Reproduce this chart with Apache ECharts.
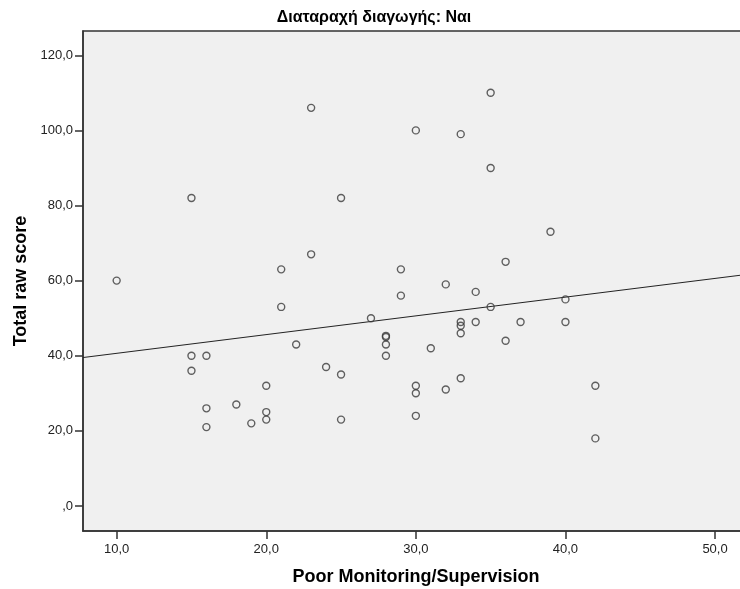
<!DOCTYPE html>
<html>
<head>
<meta charset="utf-8">
<script src="https://cdn.jsdelivr.net/npm/echarts@6/dist/echarts.min.js"></script>
<style>
  html, body { margin: 0; padding: 0; background: #ffffff; }
  #chart { width: 740px; height: 589px; }
</style>
</head>
<body>
<div id="chart"></div>
<script>
// Poor Monitoring/Supervision vs. total raw score, conduct disorder = yes
const chartTitle = 'Διαταραχή διαγωγής: Ναι';
const xTitle = 'Poor Monitoring/Supervision';
const yTitle = 'Total raw score';

const monitoring = [
  10, 15, 15, 15, 16, 16, 16, 18, 19, 20, 20, 20, 21, 21, 22, 23, 23, 24,
  25, 25, 25, 27, 28, 28, 28, 28, 29, 29, 30, 30, 30, 30, 31, 32, 32, 33,
  33, 33, 33, 33, 34, 34, 35, 35, 35, 36, 36, 37, 39, 40, 40, 42, 42
];
const rawScore = [
  60, 82, 40, 36, 40, 26, 21, 27, 22, 32, 25, 23, 63, 53, 43, 106, 67, 37,
  82, 35, 23, 50, 45, 45.3, 43, 40, 63, 56, 100, 32, 30, 24, 42, 59, 31, 99,
  49, 48, 46, 34, 57, 49, 110, 90, 53, 65, 44, 49, 73, 55, 49, 32, 18
];

const xTicks = [10, 20, 30, 40, 50];
const yTicks = [0, 20, 40, 60, 80, 100, 120];
const xRange = [7.75, 52.27];
const yRange = [-6.66, 126.46];

// SPSS-style numbers: comma decimal, no leading zero
function fmt(v) {
  let s = v.toFixed(1).replace('.', ',');
  if (s.indexOf('0,') === 0) s = s.slice(1);
  return s;
}

// ordinary least squares fit line
const n = monitoring.length;
const mx = monitoring.reduce((a, b) => a + b, 0) / n;
const my = rawScore.reduce((a, b) => a + b, 0) / n;
let sxy = 0, sxx = 0;
for (let i = 0; i < n; i++) {
  sxy += (monitoring[i] - mx) * (rawScore[i] - my);
  sxx += (monitoring[i] - mx) * (monitoring[i] - mx);
}
const slope = sxy / sxx;
const intercept = my - slope * mx;
const fitLine = xRange.map(x => [x, intercept + slope * x]);

const points = monitoring.map((x, i) => [x, rawScore[i]]);

const font = '"Liberation Sans", Arial, sans-serif';
const ink = '#333333';

const chart = echarts.init(document.getElementById('chart'), null, { renderer: 'canvas' });
chart.setOption({
  animation: false,
  backgroundColor: '#ffffff',
  graphic: [{
    type: 'text',
    x: 374, y: 18,
    style: {
      text: chartTitle,
      font: 'bold 16px ' + font,
      fill: '#000000',
      textAlign: 'center',
      textVerticalAlign: 'middle'
    }
  }],
  grid: {
    left: 83, top: 31, width: 666, height: 500,
    outerBoundsMode: 'none',
    containLabel: false,
    show: true,
    backgroundColor: '#f0f0f0',
    borderColor: ink,
    borderWidth: 1.5
  },
  xAxis: {
    type: 'value',
    min: xRange[0], max: xRange[1],
    name: xTitle,
    nameLocation: 'middle',
    nameGap: 37,
    nameTextStyle: { fontFamily: font, fontSize: 18, fontWeight: 'bold', color: '#000000' },
    axisLine: { show: true, onZero: false, lineStyle: { color: ink, width: 1.5 } },
    axisTick: { show: true, length: 8, customValues: xTicks, lineStyle: { color: ink, width: 1.5 } },
    axisLabel: { customValues: xTicks, formatter: fmt, margin: 12, fontFamily: font, fontSize: 13, color: '#222222' },
    splitLine: { show: false }
  },
  yAxis: {
    type: 'value',
    min: yRange[0], max: yRange[1],
    name: yTitle,
    nameLocation: 'middle',
    nameGap: 53,
    nameTextStyle: { fontFamily: font, fontSize: 18, fontWeight: 'bold', color: '#000000' },
    axisLine: { show: true, onZero: false, lineStyle: { color: ink, width: 1.5 } },
    axisTick: { show: true, length: 8, customValues: yTicks, lineStyle: { color: ink, width: 1.5 } },
    axisLabel: { customValues: yTicks, formatter: fmt, margin: 10, fontFamily: font, fontSize: 13, color: '#222222' },
    splitLine: { show: false }
  },
  series: [
    {
      type: 'line',
      data: fitLine,
      showSymbol: false,
      symbol: 'none',
      lineStyle: { color: '#222222', width: 1 },
      z: 2
    },
    {
      type: 'scatter',
      data: points,
      symbol: 'circle',
      symbolSize: 7,
      itemStyle: { color: 'rgba(0,0,0,0)', borderColor: '#3a3a3a', borderWidth: 1.4 },
      z: 3
    }
  ]
});
</script>
</body>
</html>
